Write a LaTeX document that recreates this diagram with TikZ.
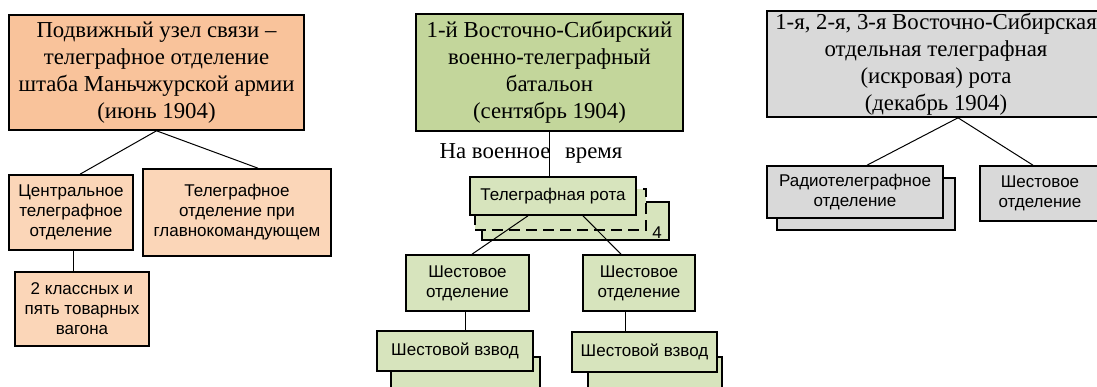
\documentclass[tikz,border=0pt]{standalone}
\usepackage{fontspec}
\setmainfont{Liberation Serif}
\setsansfont{Liberation Sans}
\usetikzlibrary{calc}

\definecolor{orangeTop}{HTML}{F9C39B}
\definecolor{orangeLow}{HTML}{FBD6B8}
\definecolor{greenTop}{HTML}{C3D69B}
\definecolor{greenLow}{HTML}{D7E4BD}
\definecolor{greyBox}{HTML}{D9D9D9}

\tikzset{
  unit/.style={draw, line width=1.6pt, align=center, inner sep=0pt},
  head/.style={unit, font=\fontsize{22.8}{27}\selectfont},
  sub/.style={unit, font=\sffamily\fontsize{17}{20}\selectfont},
  link/.style={line width=1pt},
}

\begin{document}
\begin{tikzpicture}[x=1pt,y=-1pt]
  \useasboundingbox (0,0) rectangle (1097,386);
  \clip (0,0) rectangle (1097,386);

  % mobile communication node
  \node[head, fill=orangeTop, minimum width=295pt, minimum height=115pt] (hq) at (156.5,72.5)
    {Подвижный узел связи –\\телеграфное отделение\\штаба Маньчжурской армии\\(июнь 1904)};
  \node[sub, fill=orangeLow, minimum width=124pt, minimum height=75pt] (central) at (71,212.5)
    {Центральное\\телеграфное\\отделение};
  \node[sub, fill=orangeLow, minimum width=188pt, minimum height=87pt] (glav) at (237,212.5)
    {Телеграфное\\отделение при\\главнокомандующем};
  \node[sub, fill=orangeLow, minimum width=134pt, minimum height=74pt] (wagons) at (82,309)
    {2 классных и\\пять товарных\\вагона};

  % battalion, stacked companies and platoons
  \node[head, fill=greenTop, minimum width=267pt, minimum height=117pt] (bat) at (549.5,72.5)
    {1-й Восточно-Сибирский\\военно-телеграфный\\батальон\\(сентябрь 1904)};
  \node[head, draw=none] (war) at (531,153) {На военное\hspace{9pt} время};
  \node[sub, fill=greenLow, minimum width=187pt, minimum height=38pt] (rota3) at (575.5,221) {};
  \node[sub, fill=greenLow, dash pattern=on 11pt off 6pt, minimum width=171pt, minimum height=41pt] (rota2) at (560.5,209.5) {};
  \node[sub, fill=greenLow, minimum width=166pt, minimum height=38pt] (rota) at (553,196) {Телеграфная рота};
  \node[sub, draw=none] (four) at (657,233) {4};
  \node[sub, fill=greenLow, minimum width=123pt, minimum height=56pt] (shestL) at (467.5,283) {Шестовое\\отделение};
  \node[sub, fill=greenLow, minimum width=112pt, minimum height=56pt] (shestR) at (639,283) {Шестовое\\отделение};
  \node[sub, fill=greenLow, minimum width=149pt, minimum height=43pt] (vzvodL2) at (465.5,378.5) {};
  \node[sub, fill=greenLow, minimum width=156pt, minimum height=40pt] (vzvodL) at (455,351) {Шестовой взвод};
  \node[sub, fill=greenLow, minimum width=134pt, minimum height=43pt] (vzvodR2) at (655,378.5) {};
  \node[sub, fill=greenLow, minimum width=145pt, minimum height=40pt] (vzvodR) at (644.5,352) {Шестовой взвод};

  % spark company
  \node[head, fill=greyBox, minimum width=338pt, minimum height=106pt] (grey) at (936,64)
    {1-я, 2-я, 3-я Восточно-Сибирская\\отдельная телеграфная\\(искровая) рота\\(декабрь 1904)};
  \node[sub, fill=greyBox, minimum width=178pt, minimum height=52pt] (radio2) at (866,204) {};
  \node[sub, fill=greyBox, minimum width=176pt, minimum height=52pt] (radio) at (855,192) {Радиотелеграфное\\отделение};
  \node[sub, fill=greyBox, minimum width=120pt, minimum height=55pt] (shestG) at (1040,193.5) {Шестовое\\отделение};

  % connectors
  \draw[link] (hq.south) -- ($(central.north)+(9,0)$);
  \draw[link] (hq.south) -- ($(glav.north)+(21,0)$);
  \draw[link] ($(central.south)+(2,0)$) -- ($(wagons.north)+(-9,0)$);
  \draw[link] (bat.south) -- (bat.south |- rota.north);
  \draw[link] ($(rota.south)+(-25,0)$) -- ($(shestL.north)+(4.5,0)$);
  \draw[link] ($(rota.south)+(30,0)$) -- ($(shestR.north)+(-18,0)$);
  \draw[link] ($(shestL.south)+(-2.5,0)$) -- ($(vzvodL.north)+(10,0)$);
  \draw[link] ($(shestR.south)+(-14,0)$) -- ($(vzvodR.north)+(-19.5,0)$);
  \draw[link] ($(grey.south)+(22,0)$) -- ($(radio.north)+(12,0)$);
  \draw[link] ($(grey.south)+(22,0)$) -- ($(shestG.north)+(-7,0)$);
\end{tikzpicture}
\end{document}
